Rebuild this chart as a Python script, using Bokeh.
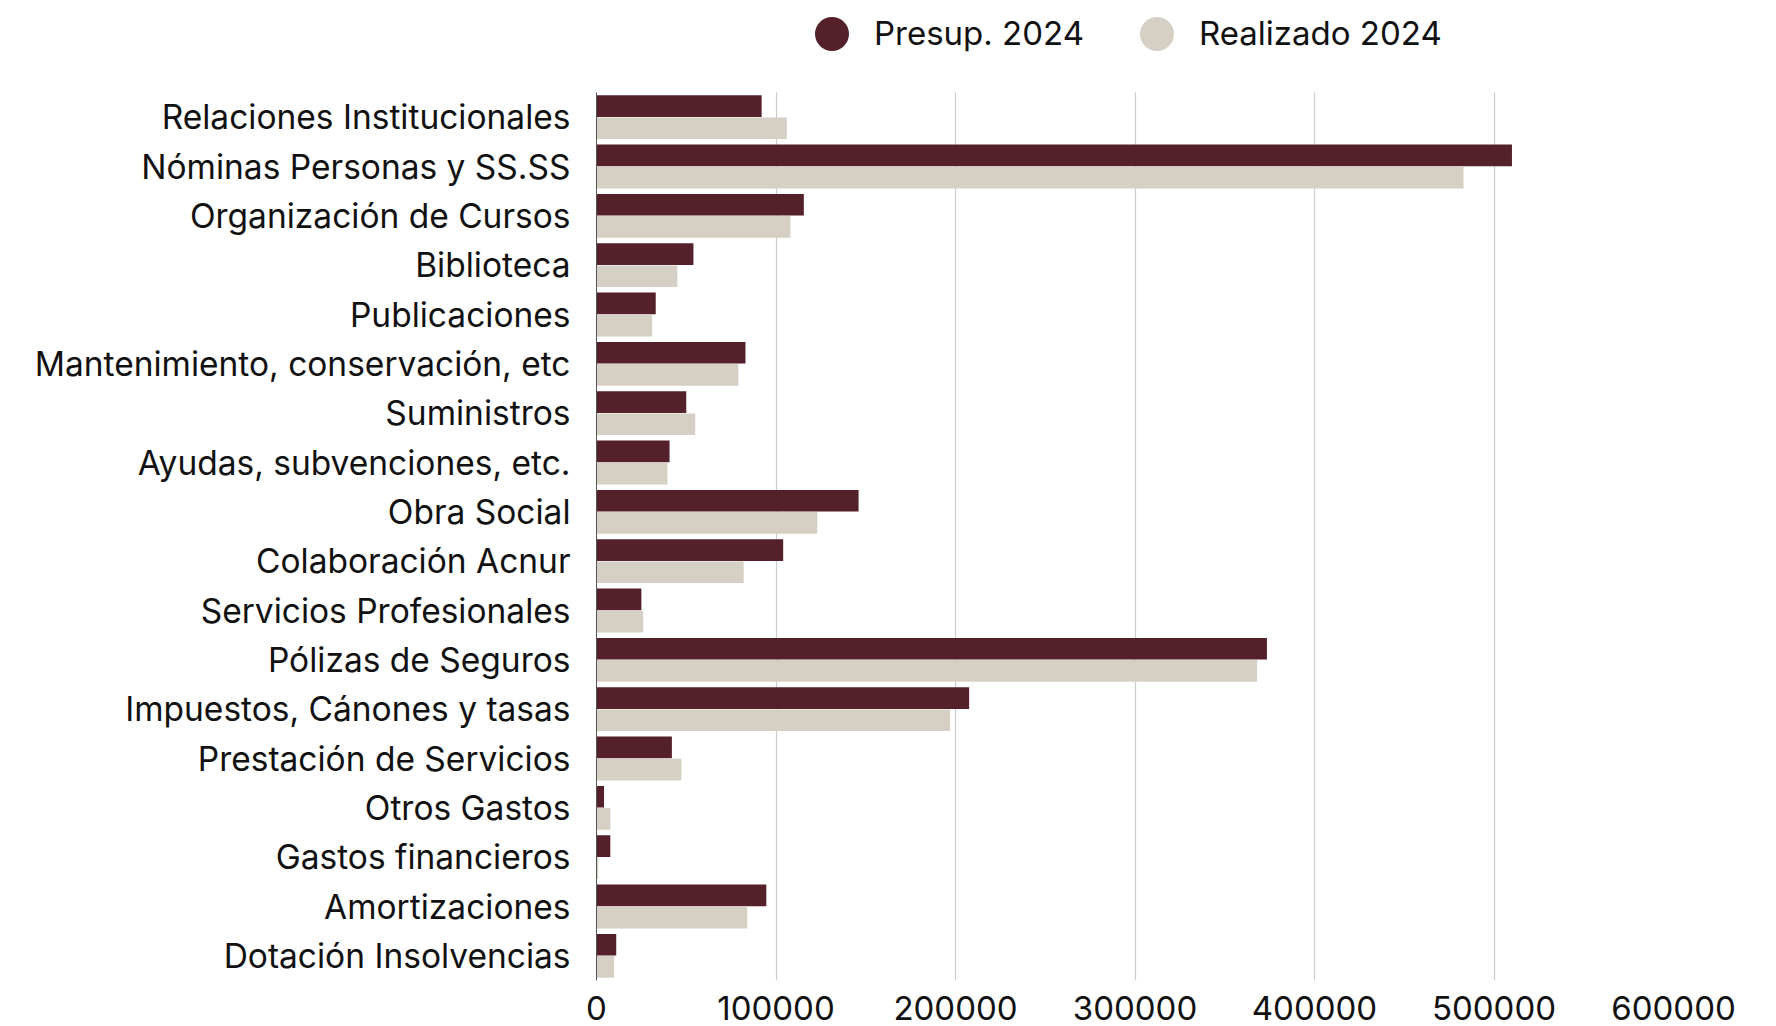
from bokeh.plotting import figure
from bokeh.models import (ColumnDataSource, Range1d, FixedTicker, BasicTickFormatter,
                          Legend, LegendItem, Grid)
from bokeh.transform import dodge
from bokeh.embed import file_html
from bokeh.resources import INLINE

categories = [
    "Relaciones Institucionales",
    "Nóminas Personas y SS.SS",
    "Organización de Cursos",
    "Biblioteca",
    "Publicaciones",
    "Mantenimiento, conservación, etc",
    "Suministros",
    "Ayudas, subvenciones, etc.",
    "Obra Social",
    "Colaboración Acnur",
    "Servicios Profesionales",
    "Pólizas de Seguros",
    "Impuestos, Cánones y tasas",
    "Prestación de Servicios",
    "Otros Gastos",
    "Gastos financieros",
    "Amortizaciones",
    "Dotación Insolvencias",
]
presup_2024 = [92000, 510000, 115500, 54000, 33000, 83000, 50000, 40700, 146000, 104000,
               25000, 373500, 207600, 42000, 4200, 7700, 94600, 11000]
realizado_2024 = [106000, 483000, 108000, 45000, 31000, 79000, 55000, 39500, 123000, 82000,
                  26000, 368000, 197000, 47300, 7700, 1000, 84000, 9800]
x_ticks = [0, 100000, 200000, 300000, 400000, 500000, 600000]

series_names = ["Presup. 2024", "Realizado 2024"]
colors = ["#54212A", "#D6CFC4"]
FONT = "Inter"

n = len(categories)
ypos = [n - 1 - i for i in range(n)]  # first category on top
src = ColumnDataSource(dict(cat=categories, y=ypos, presup=presup_2024, real=realizado_2024))

# layout (pixels)
W, H = 1770, 1026
BOTTOM, LEGEND_SPACE = 46, 92
band_px = (H - BOTTOM - LEGEND_SPACE) / n
top_extra = LEGEND_SPACE / band_px

p = figure(
    width=W, height=H,
    x_range=Range1d(0, 600000),
    y_range=Range1d(-0.5, n - 0.5 + top_extra),
    output_backend="svg", toolbar_location=None,
    min_border_left=596, min_border_right=97, min_border_top=0, min_border_bottom=BOTTOM,
)

p.hbar(y=dodge("y", 0.225), right="presup", left=0, height=0.44,
       source=src, fill_color=colors[0], line_color=None)
p.hbar(y=dodge("y", -0.225), right="real", left=0, height=0.44,
       source=src, fill_color=colors[1], line_color=None)

p.outline_line_color = None
p.ygrid.visible = False
p.xgrid.visible = False

grid = Grid(dimension=0, ticker=FixedTicker(ticks=x_ticks),
            grid_line_color="#cccccc", grid_line_width=1.2)
if "cross_bounds" in Grid.properties():
    grid.cross_bounds = (-0.5, n - 0.5)
    p.add_layout(grid)
else:
    p.segment(x0=x_ticks, x1=x_ticks, y0=[-0.5] * len(x_ticks), y1=[n - 0.5] * len(x_ticks),
              line_color="#cccccc", line_width=1.2, level="underlay")

p.xaxis.ticker = FixedTicker(ticks=x_ticks)
p.xaxis.formatter = BasicTickFormatter(use_scientific=False)
p.xaxis.axis_line_color = None
p.xaxis.major_tick_line_color = None
p.xaxis.minor_tick_line_color = None
p.xaxis.major_label_standoff = 9
p.xaxis.major_label_text_font = FONT
p.xaxis.major_label_text_font_size = "33px"
p.xaxis.major_label_text_color = "#111111"

p.yaxis.ticker = FixedTicker(ticks=ypos)
p.yaxis.major_label_overrides = {y: c for y, c in zip(ypos, categories)}
p.yaxis.bounds = (-0.5, n - 0.5)
p.yaxis.axis_line_color = "#555555"
p.yaxis.axis_line_width = 1
p.yaxis.major_tick_line_color = None
p.yaxis.minor_tick_line_color = None
p.yaxis.major_label_standoff = 20
p.yaxis.major_label_text_font = FONT
p.yaxis.major_label_text_font_size = "33.5px"
p.yaxis.major_label_text_color = "#111111"

# hidden renderers used only for circular legend markers
d1 = p.scatter(x="presup", y="y", source=src, marker="circle", fill_color=colors[0],
               line_color=None, visible=False)
d2 = p.scatter(x="real", y="y", source=src, marker="circle", fill_color=colors[1],
               line_color=None, visible=False)

frame_h = H - BOTTOM
legend = Legend(
    items=[LegendItem(label=series_names[0], renderers=[d1]),
           LegendItem(label=series_names[1], renderers=[d2])],
    orientation="horizontal",
    location=(193, frame_h - 33 - 42.5),
    glyph_width=85, glyph_height=85,
    label_standoff=0, spacing=30, padding=0, margin=0,
    border_line_color=None, background_fill_alpha=0,
    inactive_fill_alpha=0,
    label_text_font=FONT, label_text_font_size="33px", label_text_color="#111111",
)
p.add_layout(legend, "center")

open("out.html", "w").write(file_html(p, INLINE))
